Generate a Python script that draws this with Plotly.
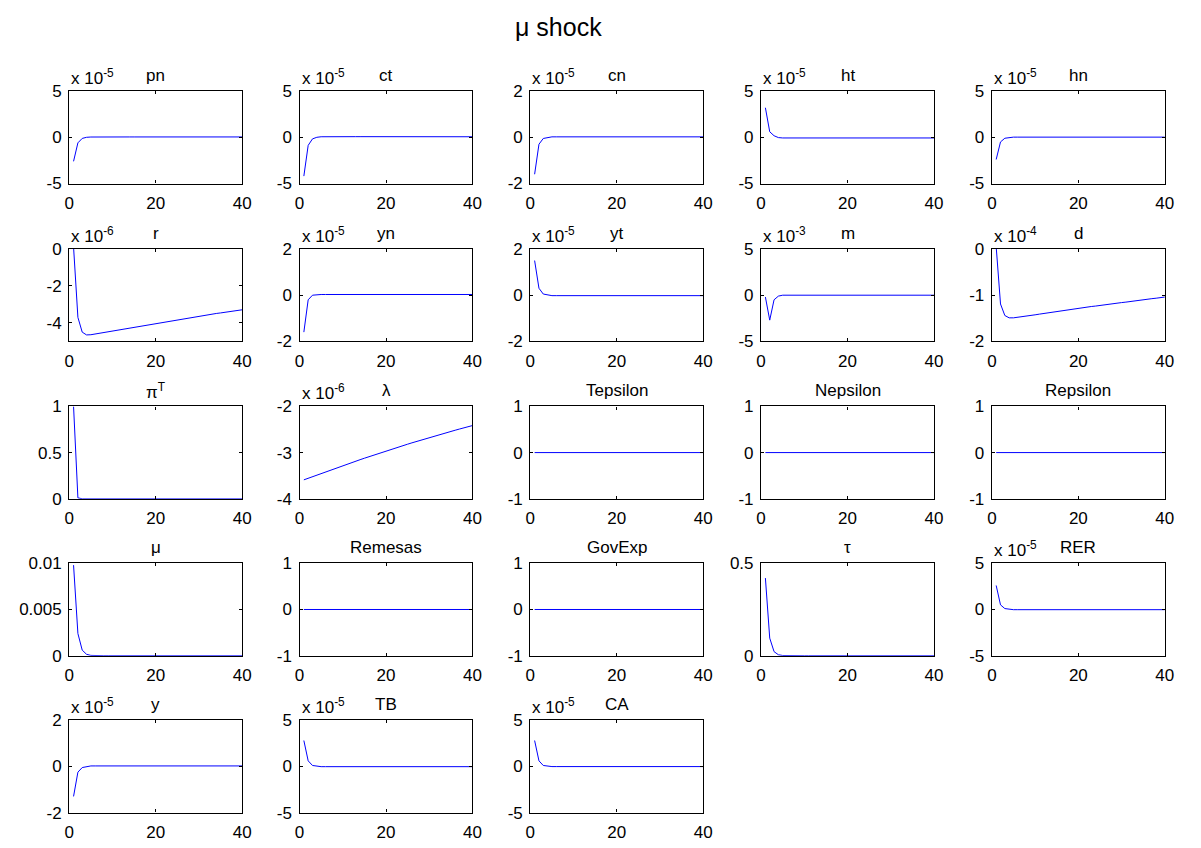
import plotly.graph_objects as go

W, H = 1201, 848
periods = list(range(1, 41))
x_ticks = [0, 20, 40]

# ---- series values (in displayed units; exponent shown as "x 10^e") ----
pn = [-2.6, -0.6, -0.12, 0.0, 0.03, 0.04, 0.04, 0.04, 0.04, 0.04,
      0.04, 0.04, 0.04, 0.04, 0.04, 0.04, 0.04, 0.04, 0.04, 0.04,
      0.04, 0.04, 0.04, 0.04, 0.04, 0.04, 0.04, 0.04, 0.04, 0.04,
      0.04, 0.04, 0.04, 0.04, 0.04, 0.04, 0.04, 0.04, 0.04, 0.04]
ct = [-4.2, -0.87, -0.17, 0.0, 0.06, 0.07, 0.07, 0.07, 0.07, 0.07,
      0.07, 0.07, 0.07, 0.07, 0.07, 0.07, 0.07, 0.07, 0.07, 0.07,
      0.06, 0.06, 0.06, 0.06, 0.06, 0.06, 0.06, 0.06, 0.06, 0.06,
      0.06, 0.06, 0.06, 0.06, 0.06, 0.06, 0.06, 0.06, 0.06, 0.06]
cn = [-1.6, -0.3, -0.05, 0.0, 0.02, 0.02, 0.02, 0.02, 0.02, 0.02,
      0.02, 0.02, 0.02, 0.02, 0.02, 0.02, 0.02, 0.02, 0.02, 0.02,
      0.02, 0.02, 0.02, 0.02, 0.02, 0.02, 0.02, 0.02, 0.02, 0.02,
      0.02, 0.02, 0.02, 0.02, 0.02, 0.02, 0.02, 0.02, 0.02, 0.02]
ht = [3.2, 0.6, 0.17, -0.03, -0.07, -0.07, -0.07, -0.07, -0.07, -0.07,
      -0.07, -0.07, -0.07, -0.07, -0.07, -0.07, -0.07, -0.07, -0.07, -0.07,
      -0.07, -0.07, -0.07, -0.07, -0.07, -0.07, -0.07, -0.07, -0.07, -0.07,
      -0.07, -0.07, -0.07, -0.07, -0.07, -0.07, -0.07, -0.07, -0.07, -0.07]
hn = [-2.4, -0.5, -0.1, 0.0, 0.02, 0.02, 0.02, 0.02, 0.02, 0.02,
      0.02, 0.02, 0.02, 0.02, 0.02, 0.02, 0.02, 0.02, 0.02, 0.02,
      0.02, 0.02, 0.02, 0.02, 0.02, 0.02, 0.02, 0.02, 0.02, 0.02,
      0.02, 0.02, 0.02, 0.02, 0.02, 0.02, 0.02, 0.02, 0.02, 0.02]
r = [0.1, -3.7, -4.5, -4.65, -4.64, -4.6, -4.56, -4.52, -4.48, -4.44,
     -4.39, -4.35, -4.31, -4.27, -4.22, -4.18, -4.14, -4.10, -4.06, -4.02,
     -3.98, -3.94, -3.90, -3.86, -3.82, -3.78, -3.74, -3.71, -3.67, -3.63,
     -3.60, -3.56, -3.53, -3.49, -3.46, -3.42, -3.39, -3.36, -3.32, -3.29]
yn = [-1.6, -0.2, 0.0, 0.03, 0.03, 0.03, 0.03, 0.03, 0.03, 0.03,
      0.03, 0.03, 0.03, 0.03, 0.03, 0.03, 0.03, 0.03, 0.03, 0.03,
      0.03, 0.03, 0.03, 0.03, 0.03, 0.03, 0.03, 0.03, 0.03, 0.03,
      0.03, 0.03, 0.03, 0.03, 0.03, 0.03, 0.03, 0.03, 0.03, 0.03]
yt = [1.5, 0.3, 0.05, 0.0, -0.02, -0.02, -0.02, -0.02, -0.02, -0.02,
      -0.02, -0.02, -0.02, -0.02, -0.02, -0.02, -0.02, -0.02, -0.02, -0.02,
      -0.02, -0.02, -0.02, -0.02, -0.02, -0.02, -0.02, -0.02, -0.02, -0.02,
      -0.02, -0.02, -0.02, -0.02, -0.02, -0.02, -0.02, -0.02, -0.02, -0.02]
m = [-0.2, -2.7, -0.5, -0.1, 0.0, 0.0, 0.0, 0.0, 0.0, 0.0,
     0.0, 0.0, 0.0, 0.0, 0.0, 0.0, 0.0, 0.0, 0.0, 0.0,
     0.0, 0.0, 0.0, 0.0, 0.0, 0.0, 0.0, 0.0, 0.0, 0.0,
     0.0, 0.0, 0.0, 0.0, 0.0, 0.0, 0.0, 0.0, 0.0, 0.0]
d = [0.05, -1.19, -1.44, -1.49, -1.49, -1.48, -1.465, -1.45, -1.44, -1.425,
     -1.41, -1.395, -1.38, -1.37, -1.355, -1.34, -1.325, -1.31, -1.30, -1.285,
     -1.27, -1.26, -1.245, -1.235, -1.22, -1.21, -1.195, -1.185, -1.17, -1.16,
     -1.15, -1.135, -1.125, -1.11, -1.10, -1.09, -1.075, -1.065, -1.055, -1.04]
piT = [1.0, 0.01, 0.0, 0.0, 0.0, 0.0, 0.0, 0.0, 0.0, 0.0,
       0.0, 0.0, 0.0, 0.0, 0.0, 0.0, 0.0, 0.0, 0.0, 0.0,
       0.0, 0.0, 0.0, 0.0, 0.0, 0.0, 0.0, 0.0, 0.0, 0.0,
       0.0, 0.0, 0.0, 0.0, 0.0, 0.0, 0.0, 0.0, 0.0, 0.0]
lam = [-3.59, -3.555, -3.52, -3.486, -3.452, -3.418, -3.384, -3.35, -3.317, -3.284,
       -3.251, -3.218, -3.186, -3.154, -3.122, -3.09, -3.059, -3.028, -2.997, -2.966,
       -2.936, -2.906, -2.876, -2.847, -2.818, -2.789, -2.76, -2.732, -2.704, -2.676,
       -2.649, -2.622, -2.595, -2.568, -2.542, -2.516, -2.49, -2.465, -2.44, -2.415]
zeros40 = [0.0, 0.0, 0.0, 0.0, 0.0, 0.0, 0.0, 0.0, 0.0, 0.0,
           0.0, 0.0, 0.0, 0.0, 0.0, 0.0, 0.0, 0.0, 0.0, 0.0,
           0.0, 0.0, 0.0, 0.0, 0.0, 0.0, 0.0, 0.0, 0.0, 0.0,
           0.0, 0.0, 0.0, 0.0, 0.0, 0.0, 0.0, 0.0, 0.0, 0.0]
Tepsilon = zeros40
Nepsilon = zeros40
Repsilon = zeros40
mu = [0.0098, 0.0024, 0.0006, 0.00015, 0.00003, 0.0, 0.0, 0.0, 0.0, 0.0,
      0.0, 0.0, 0.0, 0.0, 0.0, 0.0, 0.0, 0.0, 0.0, 0.0,
      0.0, 0.0, 0.0, 0.0, 0.0, 0.0, 0.0, 0.0, 0.0, 0.0,
      0.0, 0.0, 0.0, 0.0, 0.0, 0.0, 0.0, 0.0, 0.0, 0.0]
Remesas = zeros40
GovExp = zeros40
tau = [0.42, 0.095, 0.022, 0.005, 0.001, 0.0, 0.0, 0.0, 0.0, 0.0,
       0.0, 0.0, 0.0, 0.0, 0.0, 0.0, 0.0, 0.0, 0.0, 0.0,
       0.0, 0.0, 0.0, 0.0, 0.0, 0.0, 0.0, 0.0, 0.0, 0.0,
       0.0, 0.0, 0.0, 0.0, 0.0, 0.0, 0.0, 0.0, 0.0, 0.0]
RER = [2.6, 0.5, 0.1, 0.0, -0.02, -0.02, -0.02, -0.02, -0.02, -0.02,
       -0.02, -0.02, -0.02, -0.02, -0.02, -0.02, -0.02, -0.02, -0.02, -0.02,
       -0.02, -0.02, -0.02, -0.02, -0.02, -0.02, -0.02, -0.02, -0.02, -0.02,
       -0.02, -0.02, -0.02, -0.02, -0.02, -0.02, -0.02, -0.02, -0.02, -0.02]
y = [-1.3, -0.25, -0.05, 0.0, 0.02, 0.02, 0.02, 0.02, 0.02, 0.02,
     0.02, 0.02, 0.02, 0.02, 0.02, 0.02, 0.02, 0.02, 0.02, 0.02,
     0.02, 0.02, 0.02, 0.02, 0.02, 0.02, 0.02, 0.02, 0.02, 0.02,
     0.02, 0.02, 0.02, 0.02, 0.02, 0.02, 0.02, 0.02, 0.02, 0.02]
TB = [2.8, 0.6, 0.1, 0.0, -0.03, -0.03, -0.03, -0.03, -0.03, -0.03,
      -0.03, -0.03, -0.03, -0.03, -0.03, -0.03, -0.03, -0.03, -0.03, -0.03,
      -0.03, -0.03, -0.03, -0.03, -0.03, -0.03, -0.03, -0.03, -0.03, -0.03,
      -0.03, -0.03, -0.03, -0.03, -0.03, -0.03, -0.03, -0.03, -0.03, -0.03]
CA = [2.8, 0.6, 0.1, 0.0, -0.02, -0.02, -0.02, -0.02, -0.02, -0.02,
      -0.02, -0.02, -0.02, -0.02, -0.02, -0.02, -0.02, -0.02, -0.02, -0.02,
      -0.02, -0.02, -0.02, -0.02, -0.02, -0.02, -0.02, -0.02, -0.02, -0.02,
      -0.02, -0.02, -0.02, -0.02, -0.02, -0.02, -0.02, -0.02, -0.02, -0.02]

titles = ["pn", "ct", "cn", "ht", "hn",
          "r", "yn", "yt", "m", "d",
          "\u03c0<sup>T</sup>", "\u03bb", "Tepsilon", "Nepsilon", "Repsilon",
          "\u03bc", "Remesas", "GovExp", "\u03c4", "RER",
          "y", "TB", "CA"]
series = [pn, ct, cn, ht, hn,
          r, yn, yt, m, d,
          piT, lam, Tepsilon, Nepsilon, Repsilon,
          mu, Remesas, GovExp, tau, RER,
          y, TB, CA]
exponents = [-5, -5, -5, -5, -5,
             -6, -5, -5, -3, -4,
             None, -6, None, None, None,
             None, None, None, None, -5,
             -5, -5, -5]
y_ranges = [[-5, 5], [-5, 5], [-2, 2], [-5, 5], [-5, 5],
            [-5, 0], [-2, 2], [-2, 2], [-5, 5], [-2, 0],
            [0, 1], [-4, -2], [-1, 1], [-1, 1], [-1, 1],
            [0, 0.01], [-1, 1], [-1, 1], [0, 0.5], [-5, 5],
            [-2, 2], [-5, 5], [-5, 5]]
y_tickvals = [[-5, 0, 5], [-5, 0, 5], [-2, 0, 2], [-5, 0, 5], [-5, 0, 5],
              [-4, -2, 0], [-2, 0, 2], [-2, 0, 2], [-5, 0, 5], [-2, -1, 0],
              [0, 0.5, 1], [-4, -3, -2], [-1, 0, 1], [-1, 0, 1], [-1, 0, 1],
              [0, 0.005, 0.01], [-1, 0, 1], [-1, 0, 1], [0, 0.5], [-5, 0, 5],
              [-2, 0, 2], [-5, 0, 5], [-5, 0, 5]]
y_ticktext = [["-5", "0", "5"], ["-5", "0", "5"], ["-2", "0", "2"], ["-5", "0", "5"], ["-5", "0", "5"],
              ["-4", "-2", "0"], ["-2", "0", "2"], ["-2", "0", "2"], ["-5", "0", "5"], ["-2", "-1", "0"],
              ["0", "0.5", "1"], ["-4", "-3", "-2"], ["-1", "0", "1"], ["-1", "0", "1"], ["-1", "0", "1"],
              ["0", "0.005", "0.01"], ["-1", "0", "1"], ["-1", "0", "1"], ["0", "0.5"], ["-5", "0", "5"],
              ["-2", "0", "2"], ["-5", "0", "5"], ["-5", "0", "5"]]

# ---- layout geometry (pixels in the 1201x848 page) ----
col_left = [65, 298, 531.5, 765, 998.5]
row_top = [84, 245.5, 406.5, 567, 727.5]
ax_w, ax_h = 175, 94.5
FONT = "Liberation Sans, Arial, Helvetica, sans-serif"
FS = 17


def px(xp):
    return xp / W


def py(yp):
    return 1 - yp / H


fig = go.Figure()
annotations = []
for i, vals in enumerate(series):
    rr, cc = divmod(i, 5)
    n = "" if i == 0 else str(i + 1)
    l = col_left[cc]
    t = row_top[rr]
    xd = [px(l), px(l + ax_w)]
    yd = [py(t + ax_h), py(t)]
    fig.add_trace(go.Scatter(x=periods, y=vals, mode="lines",
                             line=dict(color="rgb(0,0,255)", width=1),
                             xaxis="x" + n, yaxis="y" + n, showlegend=False,
                             hoverinfo="skip"))
    common = dict(showline=True, linecolor="black", linewidth=1.3, mirror="allticks",
                  ticks="inside", ticklen=3, tickcolor="black", tickwidth=1,
                  showgrid=False, zeroline=False, fixedrange=True,
                  tickfont=dict(family=FONT, size=FS, color="black"))
    fig.layout["xaxis" + n] = dict(domain=xd, anchor="y" + n, range=[0, 40],
                                   tickvals=x_ticks, ticktext=[str(v) for v in x_ticks],
                                   ticklabelstandoff=4, **common)
    fig.layout["yaxis" + n] = dict(domain=yd, anchor="x" + n, range=y_ranges[i],
                                   tickvals=y_tickvals[i], ticktext=y_ticktext[i],
                                   ticklabelstandoff=3, **common)
    annotations.append(dict(text=titles[i], x=(xd[0] + xd[1]) / 2, y=py(t - 16),
                            xref="paper", yref="paper", xanchor="center", yanchor="middle",
                            showarrow=False, font=dict(family=FONT, size=FS, color="black")))
    if exponents[i] is not None:
        annotations.append(dict(text="x 10<sup>%d</sup>" % exponents[i], x=xd[0], y=py(t - 1),
                                xref="paper", yref="paper", xanchor="left", yanchor="bottom",
                                showarrow=False, font=dict(family=FONT, size=FS, color="black")))

annotations.append(dict(text="\u03bc shock", x=px(560), y=py(18), xref="paper", yref="paper",
                        xanchor="center", yanchor="middle", showarrow=False,
                        font=dict(family=FONT, size=25, color="black")))

fig.update_layout(width=W, height=H, autosize=False,
                  margin=dict(l=0, r=0, t=0, b=0),
                  paper_bgcolor="white", plot_bgcolor="white",
                  annotations=annotations)

fig.write_html("out.html", config={"displayModeBar": False})
